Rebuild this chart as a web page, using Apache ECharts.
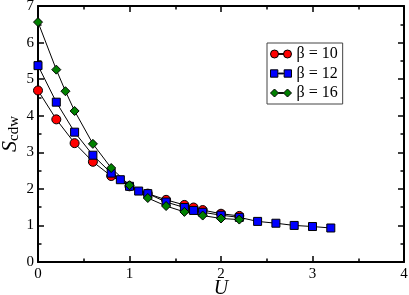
<!DOCTYPE html>
<html>
<head>
<meta charset="utf-8">
<script src="https://cdn.jsdelivr.net/npm/echarts@6/dist/echarts.min.js"></script>
<style>
html,body{margin:0;padding:0;background:#fff;}
#c{width:409px;height:295px;}
</style>
</head>
<body>
<div id="c"></div>
<script>
// ---- data ----
const u10 = [0, 0.2, 0.4, 0.6, 0.8, 1.0, 1.2, 1.4, 1.6, 1.7, 1.8, 2.0, 2.2];
const s10 = [4.69, 3.90, 3.25, 2.74, 2.35, 2.07, 1.87, 1.70, 1.56, 1.49, 1.42, 1.32, 1.26];
const u12 = [0, 0.2, 0.4, 0.6, 0.8, 0.9, 1.0, 1.1, 1.2, 1.4, 1.6, 1.7, 1.8, 2.0, 2.2, 2.4, 2.6, 2.8, 3.0, 3.2];
const s12 = [5.37, 4.37, 3.55, 2.92, 2.43, 2.25, 2.07, 1.94, 1.87, 1.64, 1.49, 1.41, 1.36, 1.28, 1.22, 1.11, 1.06, 1.00, 0.97, 0.93];
const u16 = [0, 0.2, 0.3, 0.4, 0.6, 0.8, 1.0, 1.2, 1.4, 1.6, 1.8, 2.0, 2.2];
const s16 = [6.56, 5.26, 4.67, 4.13, 3.23, 2.57, 2.10, 1.75, 1.53, 1.37, 1.27, 1.19, 1.16];
const seriesNames = ['β = 10', 'β = 12', 'β = 16'];
const xTicks = [0, 1, 2, 3, 4];
const yTicks = [0, 1, 2, 3, 4, 5, 6, 7];

const FONT = 'Liberation Serif';
function pairs(xs, ys){ return xs.map((x,i)=>[x, ys[i]]); }

// legend icons: marker - line - marker
const BAR = ' M8,3.6 L13,3.6 L13,4.4 L8,4.4 Z';
const icons = [
  'path://M0,4 A4,4 0 1,1 8,4 A4,4 0 1,1 0,4 Z M13,4 A4,4 0 1,1 21,4 A4,4 0 1,1 13,4 Z' + BAR,
  'path://M0.5,0.5 L7.5,0.5 L7.5,7.5 L0.5,7.5 Z M13.5,0.5 L20.5,0.5 L20.5,7.5 L13.5,7.5 Z' + BAR,
  'path://M4,0 L8,4 L4,8 L0,4 Z M17,0 L21,4 L17,8 L13,4 Z' + BAR
];

const chart = echarts.init(document.getElementById('c'), null, {renderer:'canvas'});
const axisCommon = {
  axisLine:{show:true, onZero:false, lineStyle:{color:'#000', width:2}},
  axisTick:{show:true, inside:true, length:6, lineStyle:{color:'#000', width:1.5}},
  minorTick:{show:true, splitNumber:2, length:3.5, lineStyle:{color:'#000', width:1.5}},
  splitLine:{show:false},
};
function mk(name, data, symbol, color, size){
  return {
    name, type:'line', data, symbol, symbolSize:size,
    showAllSymbol:true,
    lineStyle:{color:'#000', width:1},
    itemStyle:{color, borderColor:'#000', borderWidth:1},
    emphasis:{disabled:true}, animation:false, z:2
  };
}
chart.setOption({
  animation:false,
  backgroundColor:'#fff',
  grid:{left:38, right:5, top:6, bottom:33, containLabel:false, outerBoundsMode:'none'},
  xAxis:[
    Object.assign({type:'value', min:0, max:4, interval:1, position:'bottom',
      name:'U', nameLocation:'middle', nameGap:17, nameMoveOverlap:false,
      nameTextStyle:{fontFamily:FONT, fontStyle:'italic', fontSize:20, color:'#000'},
      axisLabel:{fontFamily:FONT, fontSize:15, color:'#000', margin:5,
        formatter:v=> xTicks.includes(v)? String(v):''}}, axisCommon),
    Object.assign({type:'value', min:0, max:4, interval:1, position:'top',
      axisLabel:{show:false}}, axisCommon)
  ],
  yAxis:[
    Object.assign({type:'value', min:0, max:7, interval:1, position:'left',
      name:'{s|S}{sub|cdw}', nameLocation:'middle', nameGap:16, nameRotate:90, nameMoveOverlap:false,
      nameTextStyle:{rich:{
        s:{fontFamily:FONT, fontStyle:'italic', fontSize:22, color:'#000'},
        sub:{fontFamily:FONT, fontSize:15, color:'#000', padding:[9,0,0,0]}
      }},
      axisLabel:{fontFamily:FONT, fontSize:15, color:'#000', margin:4,
        formatter:v=> yTicks.includes(v)? String(v):''}}, axisCommon),
    Object.assign({type:'value', min:0, max:7, interval:1, position:'right',
      axisLabel:{show:false}}, axisCommon)
  ],
  legend:{
    show:true, orient:'vertical', left:267, top:43,
    data:seriesNames.map((n,i)=>({name:n, icon:icons[i]})),
    itemWidth:21, itemHeight:8, itemGap:3.5,
    itemStyle:{borderColor:'#000', borderWidth:1},
    padding:[3,5,3,3],
    borderColor:'#444', borderWidth:1, backgroundColor:'#fff',
    textStyle:{fontFamily:FONT, fontSize:16, color:'#000', lineHeight:16},
    selectedMode:false
  },
  series:[
    mk(seriesNames[0], pairs(u10, s10), 'circle', '#ff0000', 9),
    mk(seriesNames[1], pairs(u12, s12), 'rect', '#0000ff', 8),
    mk(seriesNames[2], pairs(u16, s16), 'diamond', '#008000', 9)
  ]
});
</script>
</body>
</html>
